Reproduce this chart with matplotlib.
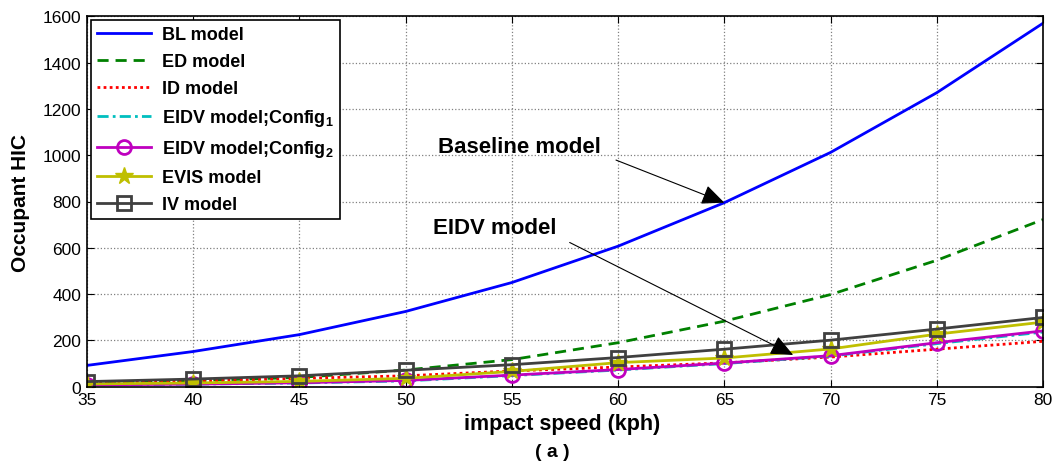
import matplotlib
matplotlib.use("Agg")
import matplotlib.pyplot as plt

speed = [35, 40, 45, 50, 55, 60, 65, 70, 75, 80]
bl_model = [92, 152, 225, 325, 450, 607, 795, 1012, 1270, 1570]
ed_model = [18, 26, 40, 72, 117, 190, 283, 398, 546, 722]
id_model = [18, 24, 36, 47, 68, 85, 103, 128, 162, 196]
eidv_cfg1 = [8, 11, 16, 25, 48, 72, 100, 132, 186, 236]
eidv_cfg2 = [8, 11, 17, 27, 50, 74, 102, 134, 190, 241]
evis_model = [12, 16, 23, 36, 66, 104, 124, 163, 227, 279]
iv_model = [22, 33, 47, 71, 95, 126, 162, 201, 249, 299]

labels = ["BL model", "ED model", "ID model",
          r"EIDV model;Config$_{1}$", r"EIDV model;Config$_{2}$",
          "EVIS model", "IV model"]

plt.rcParams['font.family'] = ['Liberation Sans', 'DejaVu Sans']
plt.rcParams['mathtext.fontset'] = 'custom'
plt.rcParams['mathtext.rm'] = 'Liberation Sans:bold'
plt.rcParams['mathtext.it'] = 'Liberation Sans:bold'
plt.rcParams['mathtext.bf'] = 'Liberation Sans:bold'

fig = plt.figure(figsize=(10.57, 4.64), dpi=100)
ax = fig.add_axes([87/1057, 1-387.7/464, (1043-87)/1057, (387.7-17.3)/464])

ax.plot(speed, bl_model, color=(0, 0, 1), lw=2.0, label=labels[0])
ax.plot(speed, ed_model, color=(0, 0.5, 0), lw=2.0, ls=(0, (4, 2.5)), label=labels[1])
ax.plot(speed, id_model, color=(1, 0, 0), lw=2.0, ls=(0, (1, 1.2)), label=labels[2])
ax.plot(speed, eidv_cfg1, color=(0, 0.75, 0.75), lw=2.0, ls=(0, (4, 1.5, 1, 1.5)), label=labels[3])
ax.plot(speed, eidv_cfg2, color=(0.75, 0, 0.75), lw=2.0, marker='o', ms=10,
        mfc='none', mew=2.0, label=labels[4])
ax.plot(speed, evis_model, color=(0.75, 0.75, 0), lw=2.0, marker='*', ms=13,
        mfc=(0.75, 0.75, 0), mew=1.0, label=labels[5])
ax.plot(speed, iv_model, color=(0.25, 0.25, 0.25), lw=2.0, marker='s', ms=9.5,
        mfc='none', mew=2.0, label=labels[6])

ax.set_xlim(35, 80)
ax.set_ylim(0, 1600)
ax.set_xticks(speed)
ax.set_yticks(range(0, 1601, 200))
ax.grid(True, color='#808080', ls=':', lw=0.9)
ax.tick_params(direction='in', top=True, right=True, labelsize=12.5, length=5, pad=4)
for s in ax.spines.values():
    s.set_linewidth(1.2)

leg = ax.legend(loc='upper left', bbox_to_anchor=(0.004, 0.99),
                prop={'weight': 'bold', 'size': 13}, frameon=True, fancybox=False,
                edgecolor='black', framealpha=1, handlelength=3.0, handletextpad=0.6,
                labelspacing=0.55, borderpad=0.35, borderaxespad=0)
leg.get_frame().set_linewidth(1.2)

arrow_props = dict(arrowstyle='-|>,head_length=0.5,head_width=0.22', color='k',
                   lw=0.8, mutation_scale=28, shrinkA=0, shrinkB=0)

# Baseline model annotation
ax.text(51.53, 1038, "Baseline model", fontsize=16, fontweight='bold',
        ha='left', va='center')
ax.annotate("", xy=(65, 795), xytext=(59.9, 979), arrowprops=arrow_props)

# EIDV model annotation
ax.text(51.3, 689, "EIDV model", fontsize=16, fontweight='bold',
        ha='left', va='center')
ax.annotate("", xy=(68.24, 137), xytext=(57.72, 623), arrowprops=arrow_props)

fig.text(562/1057, 1-425/464, "impact speed (kph)", fontsize=15.5, fontweight='bold',
         ha='center', va='center')
fig.text(552.5/1057, 1-453/464, "( a )", fontsize=14, fontweight='bold',
         ha='center', va='center')
fig.text(21/1057, 1-203/464, "Occupant HIC", fontsize=15, fontweight='bold',
         ha='center', va='center', rotation=90)

fig.savefig("out.png", dpi=100)
